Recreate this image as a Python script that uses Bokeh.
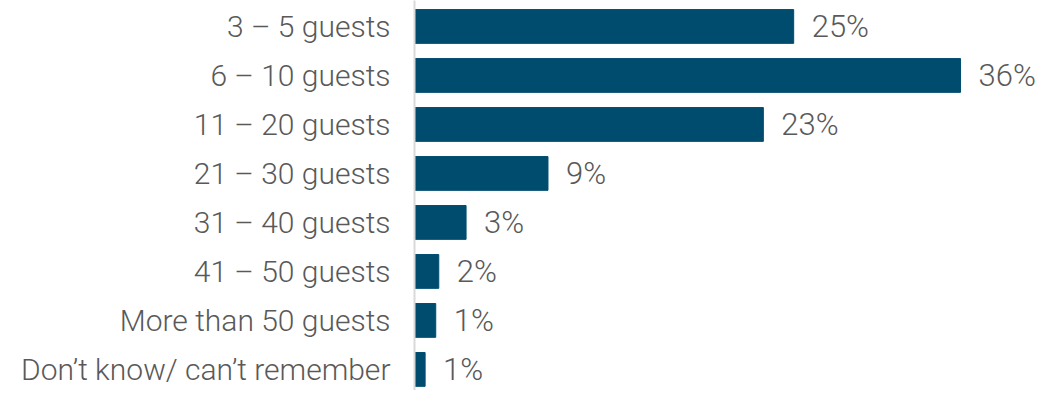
from bokeh.plotting import figure
from bokeh.models import ColumnDataSource, Range1d, FixedTicker
from bokeh.core.properties import value
from bokeh.embed import file_html
from bokeh.resources import INLINE

categories = ["3 – 5 guests", "6 – 10 guests", "11 – 20 guests", "21 – 30 guests",
              "31 – 40 guests", "41 – 50 guests", "More than 50 guests",
              "Don’t know/ can’t remember"]
values = [25, 36, 23, 8.8, 3.4, 1.6, 1.4, 0.7]
labels = ["25%", "36%", "23%", "9%", "3%", "2%", "1%", "1%"]

FONT = "Roboto Light"
TEXT_COLOR = "#595959"
BAR_COLOR = "#004c6f"

pos = list(range(len(categories)))
src = ColumnDataSource(dict(y=pos, v=values, lab=labels))

p = figure(width=1048, height=390, output_backend="svg", toolbar_location=None,
           x_range=Range1d(0, 41.8), y_range=Range1d(7.43, -0.53),
           x_axis_location=None, min_border_left=414, min_border_right=0,
           min_border_top=0, min_border_bottom=0)
p.outline_line_color = None
p.xgrid.visible = False
p.ygrid.visible = False

p.hbar(y="y", right="v", left=0, height=0.69, color=BAR_COLOR, source=src)
p.text(x="v", y="y", text="lab", source=src, x_offset=18,
       text_align="left", text_baseline="middle",
       text_font=value(FONT), text_font_size="31px", text_color=TEXT_COLOR)

ax = p.yaxis[0]
ax.ticker = FixedTicker(ticks=pos)
ax.major_label_overrides = {i: c for i, c in enumerate(categories)}
ax.major_tick_line_color = None
ax.minor_tick_line_color = None
ax.major_tick_out = 0
ax.major_tick_in = 0
ax.major_label_standoff = 24
ax.axis_line_color = "#d9d9d9"
ax.axis_line_width = 2
ax.major_label_text_font = FONT
ax.major_label_text_font_size = "30px"
ax.major_label_text_color = TEXT_COLOR

open("out.html", "w").write(file_html(p, INLINE))
